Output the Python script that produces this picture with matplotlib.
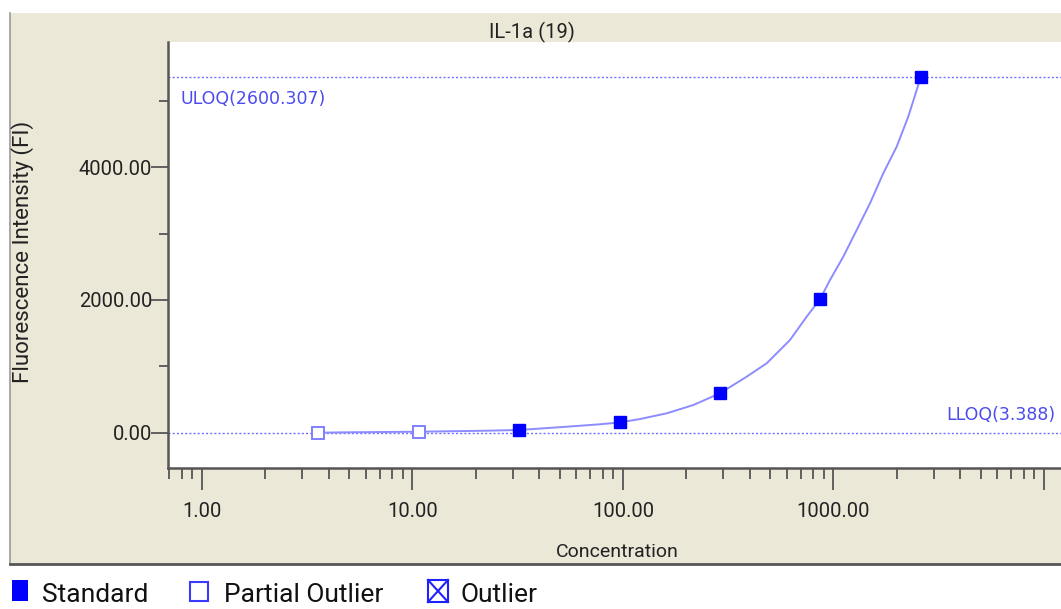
import matplotlib.pyplot as plt
import numpy as np
from matplotlib.patches import Rectangle
from matplotlib.lines import Line2D
from matplotlib.ticker import FixedLocator, LogLocator, NullFormatter

plt.rcParams['font.family'] = ['Roboto', 'DejaVu Sans']

# standards (3-fold dilution series) and their fluorescence
std_conc = [3.567, 10.70, 32.10, 96.31, 288.92, 866.77, 2600.307]
std_fi = [0, 15, 41, 154, 594, 2022, 5365]
std_kind = ['partial', 'partial', 'std', 'std', 'std', 'std', 'std']

# fitted standard curve
curve_conc = [3.567, 4.94, 10.70, 22.5, 32.10, 54.0, 77.8, 96.31, 120.4, 161.3,
              215.8, 288.92, 386.9, 481.6, 621.4, 745.8, 866.77, 962.5, 1113,
              1289, 1491, 1724, 1996, 2266, 2485, 2600.307]
curve_fi = [0, 6, 15, 30, 41, 90, 127, 154, 206, 292, 417, 594, 844, 1046, 1397,
            1748, 2022, 2301, 2652, 3055, 3457, 3909, 4310, 4762, 5164, 5365]

uloq_fi = 5365
lloq_fi = 0
uloq_label = 'ULOQ(2600.307)'
lloq_label = 'LLOQ(3.388)'

x_ticks = [1, 10, 100, 1000, 10000]
x_ticklabels = ['1.00', '10.00', '100.00', '1000.00', '']
y_ticks = [0, 2000, 4000]
y_ticklabels = ['0.00', '2000.00', '4000.00']

W, H = 1061, 609
fig = plt.figure(figsize=(W / 100, H / 100), dpi=100)
fig.patch.set_facecolor('white')

def fx(px):
    return px / W

def fy(py):
    return 1 - py / H

# beige panel behind the chart
fig.add_artist(Rectangle((fx(10), fy(564)), fx(W - 10), (564 - 13) / H,
                         transform=fig.transFigure, facecolor='#ebe8d8',
                         edgecolor='none', zorder=0))
fig.add_artist(Line2D([fx(10), fx(10)], [fy(564), fy(13)], transform=fig.transFigure,
                      color='#9a9a9a', lw=1.2))
fig.add_artist(Line2D([fx(10), 1], [fy(564), fy(564)], transform=fig.transFigure,
                      color='#555555', lw=2))

ax = fig.add_axes([fx(168), fy(468), fx(W - 168), (468 - 42) / H])
ax.set_facecolor('white')
ax.set_xscale('log')
ax.set_xlim(0.6894, 12047)
ax.set_ylim(-532, 5888)

# quantification limits
ax.axhline(uloq_fi, color='#7272ff', lw=1, ls=(0, (1.5, 1.5)), zorder=1)
ax.axhline(lloq_fi, color='#7272ff', lw=1, ls=(0, (1.5, 1.5)), zorder=1)

ax.plot(curve_conc, curve_fi, color='#8c8cff', lw=1.4, zorder=2)

for c, f, k in zip(std_conc, std_fi, std_kind):
    if k == 'std':
        ax.plot(c, f, 's', ms=8, color='#0000ff', mec='#0000ff', zorder=3)
    else:
        ax.plot(c, f, 's', ms=8, mfc='white', mec='#8080ff', mew=1.4, zorder=3)

ax.annotate(uloq_label, xy=((181 - 168) / (W - 168), uloq_fi),
            xycoords=ax.get_yaxis_transform(), xytext=(0, -19.5),
            textcoords='offset points', va='baseline', ha='left',
            color='#4b4bf0', fontsize=12.5, family='DejaVu Sans')
ax.annotate(lloq_label, xy=((1055 - 168) / (W - 168), lloq_fi),
            xycoords=ax.get_yaxis_transform(), xytext=(0, 9.5),
            textcoords='offset points', va='baseline', ha='right',
            color='#4b4bf0', fontsize=12.5, family='DejaVu Sans')

for s in ['top', 'right']:
    ax.spines[s].set_visible(False)
for s in ['left', 'bottom']:
    ax.spines[s].set_color('#555555')
    ax.spines[s].set_linewidth(1.8)

ax.xaxis.set_major_locator(FixedLocator(x_ticks))
ax.set_xticklabels(x_ticklabels)
ax.xaxis.set_minor_locator(LogLocator(base=10, subs=np.arange(2, 10)))
ax.xaxis.set_minor_formatter(NullFormatter())
ax.yaxis.set_major_locator(FixedLocator(y_ticks))
ax.set_yticklabels(y_ticklabels)
ax.yaxis.set_minor_locator(FixedLocator([1000, 3000, 5000]))

ax.tick_params(axis='x', which='major', length=16, width=1.3, color='#555555',
               labelsize=14.5, labelcolor='#222222', pad=8.5)
ax.tick_params(axis='x', which='minor', length=8, width=1.3, color='#555555')
ax.tick_params(axis='y', which='major', length=12.5, width=1.3, color='#555555',
               labelsize=14.5, labelcolor='#222222', pad=-1)
ax.tick_params(axis='y', which='minor', length=6.5, width=1.3, color='#555555')

fig.text(fx(532), fy(38), 'IL-1a (19)', ha='center', va='baseline',
         fontsize=14.5, color='#222222')
fig.text(fx(617), fy(552), 'Concentration', ha='center', va='center',
         fontsize=14, color='#222222')
fig.text(fx(23), fy(252), 'Fluorescence Intensity (FI)', ha='center', va='center',
         rotation=90, fontsize=16, color='#222222')

# legend along the bottom edge
fig.add_artist(Rectangle((fx(12), fy(601)), fx(16), 21 / H, transform=fig.transFigure,
                         facecolor='#0000ff', edgecolor='none'))
fig.add_artist(Rectangle((fx(190), fy(601)), fx(18), 19 / H, transform=fig.transFigure,
                         facecolor='none', edgecolor='#3a3aff', lw=1.5))
fig.add_artist(Rectangle((fx(428), fy(602)), fx(20), 22 / H, transform=fig.transFigure,
                         facecolor='none', edgecolor='#2020ff', lw=1.5))
fig.add_artist(Line2D([fx(428), fx(448)], [fy(602), fy(580)], transform=fig.transFigure,
                      color='#2020ff', lw=1.5))
fig.add_artist(Line2D([fx(428), fx(448)], [fy(580), fy(602)], transform=fig.transFigure,
                      color='#2020ff', lw=1.5))
for xp, txt in [(42, 'Standard'), (224, 'Partial Outlier'), (461, 'Outlier')]:
    fig.text(fx(xp), fy(602), txt, ha='left', va='baseline', fontsize=19,
             color='#111111')

fig.savefig('out.png', dpi=100)
